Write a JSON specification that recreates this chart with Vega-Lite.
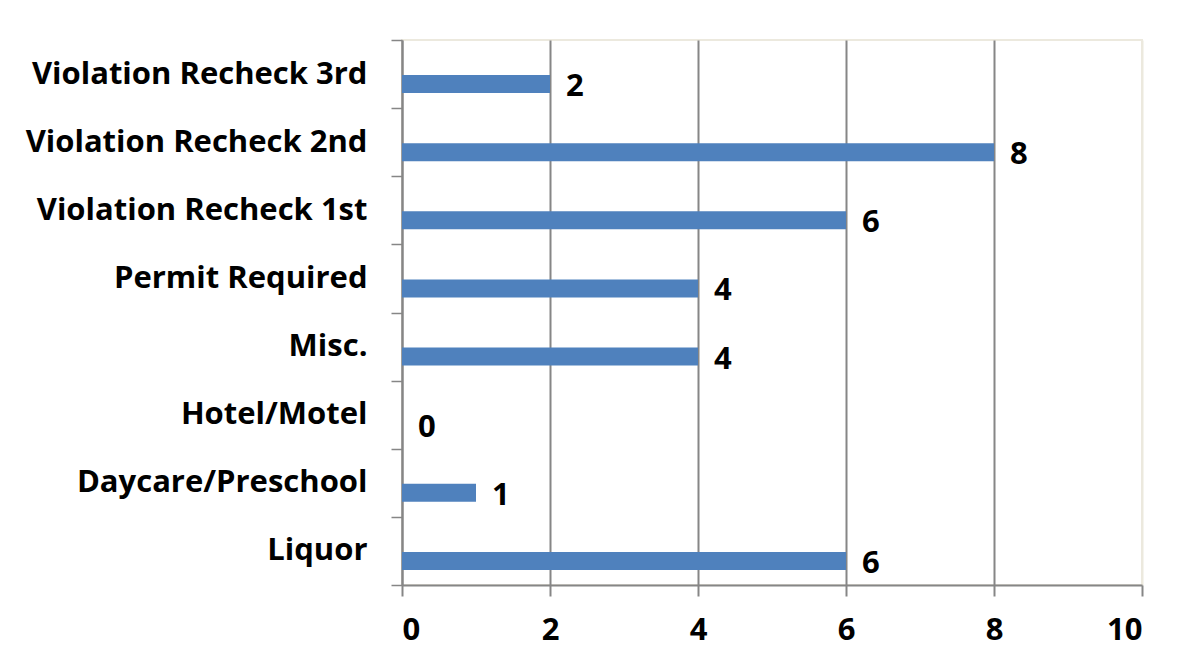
{
  "$schema": "https://vega.github.io/schema/vega-lite/v6.json",
  "autosize": {"type": "none"},
  "width": 740,
  "height": 545,
  "padding": {"left": 402, "top": 40, "right": 42, "bottom": 78},
  "background": "white",
  "data": {"values": [
    {"category": "Violation Recheck 3rd", "count": 2},
    {"category": "Violation Recheck 2nd", "count": 8},
    {"category": "Violation Recheck 1st", "count": 6},
    {"category": "Permit Required", "count": 4},
    {"category": "Misc.", "count": 4},
    {"category": "Hotel/Motel", "count": 0},
    {"category": "Daycare/Preschool", "count": 1},
    {"category": "Liquor\u00a0", "count": 6}
  ]},
  "encoding": {
    "y": {
      "field": "category", "type": "nominal", "sort": null, "title": null,
      "scale": {"paddingInner": 0, "paddingOuter": 0},
      "axis": {
        "domainColor": "#868686", "domainWidth": 2,
        "tickColor": "#868686", "tickWidth": 1.5, "tickSize": 11, "tickBand": "extent",
        "labelFont": "Open Sans", "labelFontWeight": "bold", "labelFontSize": 31, "labelColor": "black",
        "labelPadding": 24, "labelLimit": 400
      }
    },
    "x": {
      "field": "count", "type": "quantitative", "title": null,
      "scale": {"domain": [0, 10], "nice": false},
      "axis": {
        "values": [0, 2, 4, 6, 8, 10],
        "domainColor": "#868686", "domainWidth": 2,
        "tickColor": "#868686", "tickWidth": 2, "tickSize": 11,
        "grid": true, "gridWidth": 2,
        "gridColor": {"condition": {"test": "datum.value === 10", "value": "#ece9de"}, "value": "#868686"},
        "labelFont": "Open Sans", "labelFontWeight": "bold", "labelFontSize": 31, "labelColor": "black",
        "labelPadding": 19
      }
    }
  },
  "layer": [
    {"mark": {"type": "bar", "color": "#4f81bd", "height": 18, "yOffset": 10}},
    {"mark": {"type": "text", "align": "left", "baseline": "middle", "dx": 16, "yOffset": 13,
              "font": "Open Sans", "fontWeight": "bold", "fontSize": 31, "color": "black"},
     "encoding": {"text": {"field": "count", "type": "quantitative"}}}
  ],
  "config": {"view": {"stroke": "#ece9de", "strokeWidth": 2}}
}
